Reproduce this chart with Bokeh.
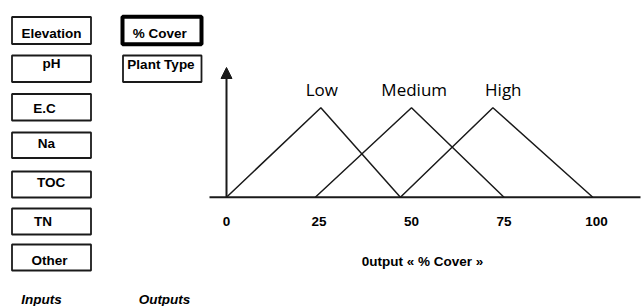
from bokeh.plotting import figure
from bokeh.models import Range1d, Arrow, NormalHead
from bokeh.core.properties import value
from bokeh.embed import file_html
from bokeh.resources import INLINE

# ---- data ----
input_labels = ["Elevation", "pH", "E.C", "Na", "TOC", "TN", "Other"]
output_labels = ["% Cover", "Plant Type"]
set_names = ["Low", "Medium", "High"]
low_x = [0, 25.5, 47]
medium_x = [24, 50, 75]
high_x = [47, 72, 99]
membership = [0, 1, 0]
x_ticks = [0, 25, 50, 75, 100]
tick_labels = ["0", "25", "50", "75", "100"]
axis_title = "0utput \u00ab % Cover \u00bb"

# ---- layout helpers (picture pixel -> data coords) ----
W, H, OFF = 642, 306, 0
X_ORIG, X_SCALE = 226.0, 3.70      # picture x of 0 %, px per %
Y_BASE, Y_SCALE = 196.7, 89.4      # picture y of membership 0, px per unit

def px(x):
    return (x - X_ORIG) / X_SCALE

def py(y):
    return (Y_BASE - y) / Y_SCALE

p = figure(width=W, height=H, output_backend="svg", toolbar_location=None,
           x_range=Range1d(px(OFF), px(OFF + W)), y_range=Range1d(py(OFF + H), py(OFF)),
           x_axis_location=None, y_axis_location=None, min_border=0)
p.grid.visible = False
p.outline_line_color = None
p.background_fill_color = "white"

INK = "#1a1a1a"
BOLD = value("Liberation Sans")

# input boxes
in_rows = [(16.5, 43.5), (55, 81.5), (93.5, 120), (132, 157.5), (171, 197), (208, 234), (244, 270)]
in_text = [(51, 32.7), (51, 63.3), (44, 108.3), (46, 143), (50.7, 181.7), (42.5, 221), (49, 260.3)]
p.quad(left=[px(11.5)] * 7, right=[px(90.5)] * 7,
       top=[py(a) for a, b in in_rows], bottom=[py(b) for a, b in in_rows],
       fill_color="white", line_color=INK, line_width=1.8)
p.text(x=[px(t[0]) for t in in_text], y=[py(t[1]) for t in in_text], text=input_labels,
       text_font=BOLD, text_font_style="bold", text_font_size="13.5px",
       text_align="center", text_baseline="middle", text_color="black")

# output boxes
p.quad(left=[px(122)], right=[px(201)], top=[py(16.3)], bottom=[py(43.7)],
       fill_color="white", line_color="black", line_width=4)
p.quad(left=[px(122.5)], right=[px(201)], top=[py(55)], bottom=[py(81.5)],
       fill_color="white", line_color=INK, line_width=1.8)
p.text(x=[px(159.2), px(160.5)], y=[py(32.7), py(63.7)], text=output_labels,
       text_font=BOLD, text_font_style="bold", text_font_size="13.5px",
       text_align="center", text_baseline="middle", text_color="black")

# group captions
p.text(x=[px(41), px(164)], y=[py(298.5), py(298.5)], text=["Inputs", "Outputs"],
       text_font=BOLD, text_font_style="bold italic", text_font_size="13.5px",
       text_align="center", text_baseline="middle", text_color="black")

# axes
p.segment(x0=[px(209)], y0=[0], x1=[px(640)], y1=[0], line_color=INK, line_width=2)
p.add_layout(Arrow(x_start=0, y_start=0, x_end=0, y_end=py(67),
                   line_color=INK, line_width=2,
                   end=NormalHead(size=11, fill_color=INK, line_color=INK, line_width=1)))

# membership functions
for xs in (low_x, medium_x, high_x):
    p.line(x=xs, y=membership, line_color=INK, line_width=1.5)

# set names
p.text(x=[px(321.3), px(413.7), px(502.8)], y=[py(89.2)] * 3, text=set_names,
       text_font=value("Open Sans"), text_font_size="17px",
       text_align="center", text_baseline="middle", text_color="black")

# tick labels and axis title
p.text(x=x_ticks, y=[py(221.3)] * len(x_ticks), text=tick_labels,
       text_font=BOLD, text_font_style="bold", text_font_size="13.5px",
       text_align="center", text_baseline="middle", text_color="black")
p.text(x=[px(422)], y=[py(261.3)], text=[axis_title],
       text_font=BOLD, text_font_style="bold", text_font_size="13.5px",
       text_align="center", text_baseline="middle", text_color="black")

open("out.html", "w").write(file_html(p, INLINE))
